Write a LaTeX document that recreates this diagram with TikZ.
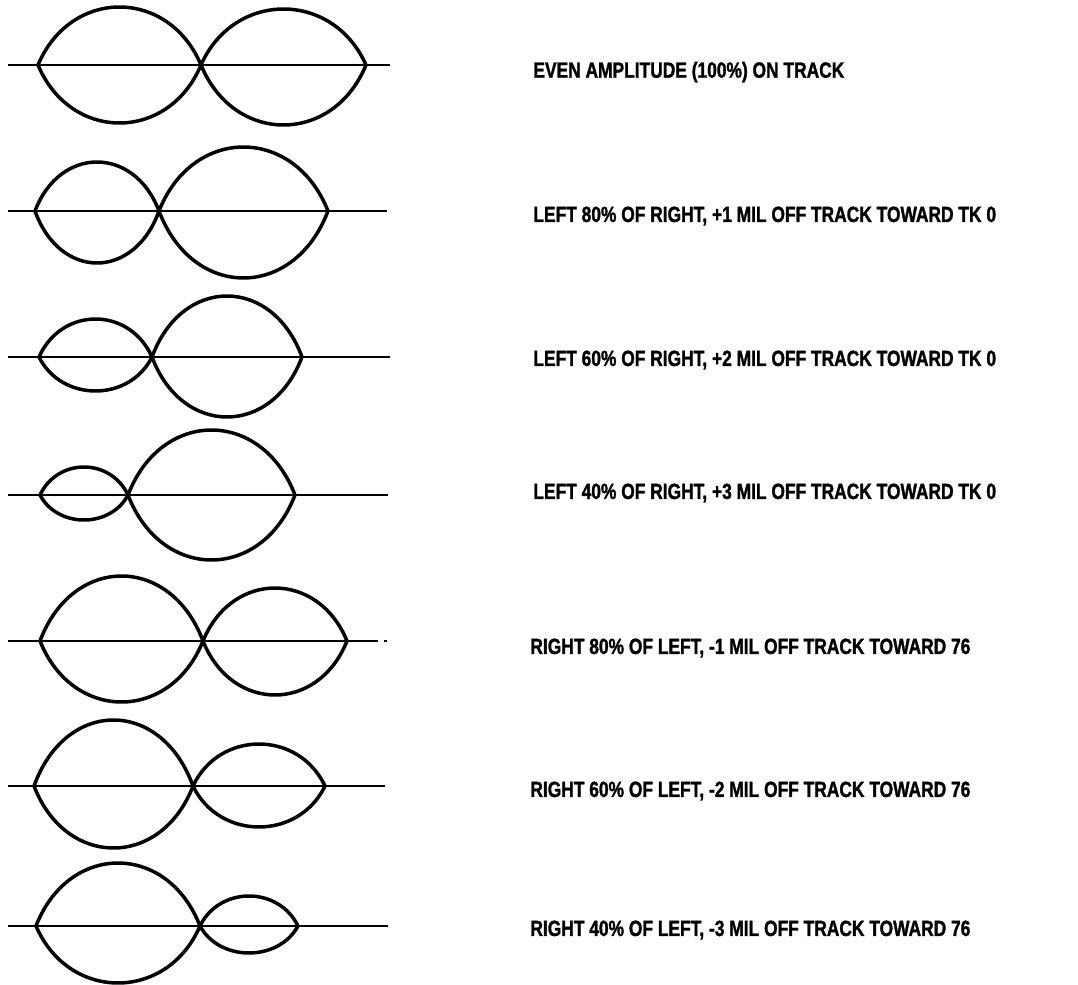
\documentclass[tikz,border=0pt]{standalone}
\usepackage{fontspec}
\newfontfamily\capfont[FakeStretch=0.79, BoldFeatures={FakeBold=1.4}]{Liberation Sans}
\usepackage{tikz}
\tikzset{
    lobe/.style={line width=1.75pt, line join=round},
    track/.style={line width=0.9pt},
    caption/.style={anchor=west, inner sep=0pt, font=\capfont\bfseries\fontsize{11}{13}\selectfont}
}

\begin{document}
\begin{tikzpicture}[x=0.5pt, y=-0.5pt]
    \useasboundingbox (0,0) rectangle (1078,985);
    % y / left end / cross / right end / left up / left down / right up / right down / text x / text y / name / text
    \foreach \y/\xa/\xm/\xb/\lu/\ld/\ru/\rd/\tx/\ty/\nm/\txt in {
        65/38/201/366/58/58/56/60/533/72/even/{EVEN AMPLITUDE (100\%) ON TRACK},
        211/35/159/328/49/52/64/67/533/216/lefta/{LEFT 80\% OF RIGHT, +1 MIL OFF TRACK TOWARD TK 0},
        357/39/152/302/38/34/61/60/533/360/leftb/{LEFT 60\% OF RIGHT, +2 MIL OFF TRACK TOWARD TK 0},
        495/40/128/295/28/25/65/65/533/493/leftc/{LEFT 40\% OF RIGHT, +3 MIL OFF TRACK TOWARD TK 0},
        641/40/203/347/65/61/53/54/530/648/righta/{RIGHT 80\% OF LEFT, -1 MIL OFF TRACK TOWARD 76},
        786/34/193/325/66/62/42/41/530/791/rightb/{RIGHT 60\% OF LEFT, -2 MIL OFF TRACK TOWARD 76},
        926/36/200/298/63/57/30/27/530/930/rightc/{RIGHT 40\% OF LEFT, -3 MIL OFF TRACK TOWARD 76}}{
        \pgfmathsetmacro{\wa}{0.2*(\xm-\xa)}
        \pgfmathsetmacro{\wb}{0.2*(\xb-\xm)}
        % left lobe
        \draw[lobe] (\xa,\y) .. controls (\xa+\wa,\y-1.333*\lu) and (\xm-\wa,\y-1.333*\lu) .. (\xm,\y)
            .. controls (\xm-\wa,\y+1.333*\ld) and (\xa+\wa,\y+1.333*\ld) .. cycle;
        % right lobe
        \draw[lobe] (\xm,\y) .. controls (\xm+\wb,\y-1.333*\ru) and (\xb-\wb,\y-1.333*\ru) .. (\xb,\y)
            .. controls (\xb-\wb,\y+1.333*\rd) and (\xm+\wb,\y+1.333*\rd) .. cycle;
        \node[caption] (\nm) at (\tx,\ty) {\txt};
    };
    % track lines
    \foreach \y/\xe in {65/390, 211/387, 357/390, 495/388, 786/385, 926/388}{
        \draw[track] (8,\y) -- (\xe,\y);
    };
    \draw[track] (8,641) -- (378,641);
    \draw[track] (384,641) -- (387,641);
\end{tikzpicture}
\end{document}
